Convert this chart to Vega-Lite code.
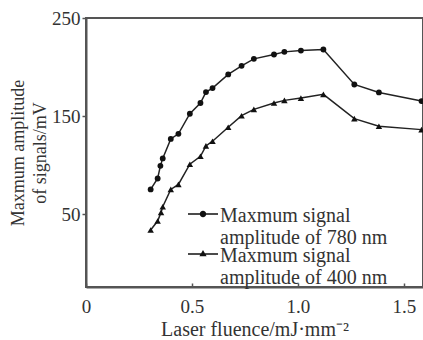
{
  "$schema": "https://vega.github.io/schema/vega-lite/v6.json",
  "width": 337,
  "height": 269,
  "autosize": {"type": "none"},
  "padding": {"left": 86, "top": 18, "right": 0, "bottom": 53},
  "config": {
    "font": "Liberation Serif",
    "view": {"stroke": "#555", "strokeWidth": 2},
    "axis": {"grid": false, "domainColor": "#555", "domainWidth": 2, "tickColor": "#555", "tickWidth": 1.5, "labelColor": "#333", "titleColor": "#333", "labelFont": "Liberation Serif", "titleFont": "Liberation Serif", "labelFontSize": 19, "titleFontSize": 18, "titleFontWeight": "normal"},
    "legend": {"title": null, "orient": "none", "symbolSize": 100, "symbolFillColor": "#111", "symbolStrokeColor": "#111", "symbolStrokeWidth": 0, "symbolOpacity": 1, "labelFont": "Liberation Serif", "labelFontSize": 20, "labelColor": "#333", "labelLimit": 400, "labelBaseline": "top", "labelOffset": 7}
  },
  "data": {"values": [
    {"x": 0.305, "y": 75.4, "s": "780"},
    {"x": 0.338, "y": 86.5, "s": "780"},
    {"x": 0.351, "y": 99.4, "s": "780"},
    {"x": 0.362, "y": 107, "s": "780"},
    {"x": 0.40, "y": 126.8, "s": "780"},
    {"x": 0.436, "y": 132, "s": "780"},
    {"x": 0.49, "y": 152.5, "s": "780"},
    {"x": 0.54, "y": 163.4, "s": "780"},
    {"x": 0.566, "y": 174.5, "s": "780"},
    {"x": 0.597, "y": 178.6, "s": "780"},
    {"x": 0.671, "y": 192.5, "s": "780"},
    {"x": 0.734, "y": 201.3, "s": "780"},
    {"x": 0.792, "y": 208.4, "s": "780"},
    {"x": 0.887, "y": 212.8, "s": "780"},
    {"x": 0.936, "y": 215.5, "s": "780"},
    {"x": 1.014, "y": 216.8, "s": "780"},
    {"x": 1.12, "y": 217.9, "s": "780"},
    {"x": 1.266, "y": 182.3, "s": "780"},
    {"x": 1.382, "y": 174.2, "s": "780"},
    {"x": 1.583, "y": 165.4, "s": "780"},
    {"x": 0.305, "y": 34.1, "s": "400"},
    {"x": 0.338, "y": 43.2, "s": "400"},
    {"x": 0.354, "y": 52, "s": "400"},
    {"x": 0.362, "y": 57.8, "s": "400"},
    {"x": 0.40, "y": 75.4, "s": "400"},
    {"x": 0.436, "y": 80.5, "s": "400"},
    {"x": 0.49, "y": 101.1, "s": "400"},
    {"x": 0.54, "y": 109.2, "s": "400"},
    {"x": 0.566, "y": 119.7, "s": "400"},
    {"x": 0.597, "y": 124.5, "s": "400"},
    {"x": 0.671, "y": 138.7, "s": "400"},
    {"x": 0.734, "y": 150.5, "s": "400"},
    {"x": 0.792, "y": 156.9, "s": "400"},
    {"x": 0.887, "y": 163.4, "s": "400"},
    {"x": 0.936, "y": 166.1, "s": "400"},
    {"x": 1.014, "y": 168.4, "s": "400"},
    {"x": 1.12, "y": 172.2, "s": "400"},
    {"x": 1.266, "y": 147.5, "s": "400"},
    {"x": 1.382, "y": 139.7, "s": "400"},
    {"x": 1.583, "y": 136.3, "s": "400"}
  ]},
  "encoding": {
    "x": {"field": "x", "type": "quantitative", "scale": {"domain": [0, 1.59], "nice": false, "zero": false},
      "axis": {"values": [0, 0.5, 1, 1.5], "labelExpr": "datum.value == 0 ? '0' : format(datum.value, '.1f')", "tickSize": -4, "labelPadding": 14, "title": "Laser fluence/mJ·mm⁻²", "titleFontSize": 20, "titlePadding": 3, "labelFlush": false}},
    "y": {"field": "y", "type": "quantitative", "scale": {"domain": [-24, 250], "nice": false, "zero": false},
      "axis": {"values": [50, 150, 250], "tickSize": 4, "labelPadding": 2, "title": ["Maxmum amplitude", "of signals/mV"], "titlePadding": 2, "titleLineHeight": 22, "labelFlush": false}}
  },
  "layer": [
    {"mark": {"type": "line", "color": "#222", "strokeWidth": 1.5}, "encoding": {"detail": {"field": "s"}}},
    {"mark": {"type": "point", "filled": true, "color": "#111", "opacity": 1},
      "encoding": {
        "shape": {"field": "s", "type": "nominal", "scale": {"domain": ["780", "400"], "range": ["circle", "triangle-up"]}, "legend": null},
        "size": {"field": "s", "type": "nominal", "scale": {"domain": ["780", "400"], "range": [34, 42]}, "legend": null}}},
    {"transform": [{"filter": "datum.y < -1000"}],
      "mark": {"type": "point", "filled": true, "color": "#111", "opacity": 1},
      "encoding": {"shape": {"field": "s", "type": "nominal",
        "scale": {"domain": ["780"], "range": ["M-3,1.45H3V1.75H-3ZM-0.65,1.6A0.65,0.65,0,1,1,0.65,1.6A0.65,0.65,0,1,1,-0.65,1.6Z"]},
        "legend": {"legendX": 107, "legendY": 178,
          "labelExpr": "['Maxmum signal', 'amplitude of 780 nm']",
          "encode": {"labels": {"update": {"lineHeight": {"value": 20}}}, "symbols": {"update": {"fill": {"value": "#111"}, "stroke": {"value": "#111"}, "strokeWidth": {"value": 0}}}}}}}},
    {"transform": [{"filter": "datum.y < -1000"}],
      "mark": {"type": "point", "filled": true, "color": "#111", "opacity": 1},
      "encoding": {"shape": {"field": "s", "type": "nominal",
        "scale": {"domain": ["400"], "range": ["M-3,1.45H3V1.75H-3ZM0,0.8L0.72,2.05L-0.72,2.05Z"]},
        "legend": {"legendX": 107, "legendY": 218,
          "labelExpr": "['Maxmum signal', 'amplitude of 400 nm']",
          "encode": {"labels": {"update": {"lineHeight": {"value": 20}}}, "symbols": {"update": {"fill": {"value": "#111"}, "stroke": {"value": "#111"}, "strokeWidth": {"value": 0}}}}}}}}
  ],
  "resolve": {"scale": {"shape": "independent", "size": "independent"}, "legend": {"shape": "independent"}}
}
